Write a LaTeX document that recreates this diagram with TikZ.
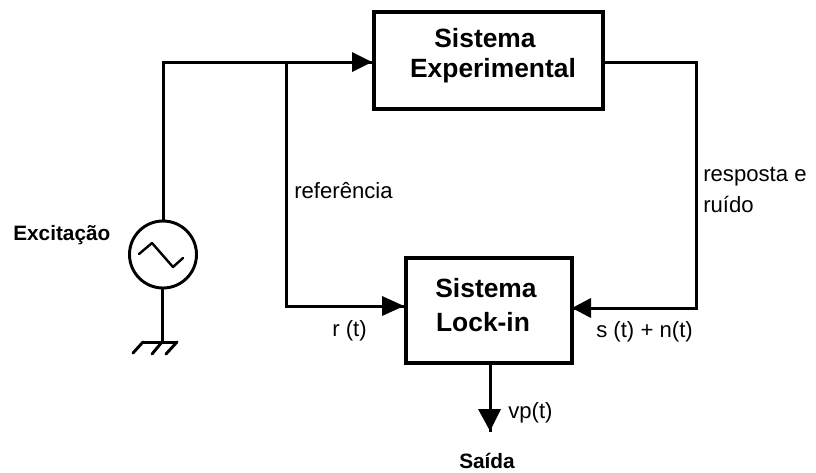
\documentclass[tikz,border=0pt]{standalone}
\usepackage{fontspec}
\setmainfont{Liberation Sans}
\tikzset{
  x=0.75pt,y=-0.75pt,
  wire/.style={line width=2.25pt,line cap=butt,line join=miter},
  arrowtip/.style={fill=black,draw=none},
  blockbox/.style={draw,line width=2.6pt,inner sep=0pt},
  lab/.style={font=\fontsize{16.6pt}{20pt}\selectfont,inner sep=0pt},
  title/.style={font=\fontsize{19.8pt}{25.5pt}\selectfont\bfseries,inner sep=0pt},
  boldlab/.style={font=\fontsize{15.6pt}{18pt}\selectfont\bfseries,inner sep=0pt},
  hatchline/.style={line width=2.2pt,line cap=round},
}
\begin{document}
\begin{tikzpicture}
\useasboundingbox (0,0) rectangle (816,472);
\node[blockbox,minimum width=229*0.75pt,minimum height=97*0.75pt] (exp) at (488.5,60.5) {};
\node[blockbox,minimum width=166*0.75pt,minimum height=105*0.75pt] (lock) at (489,310.5) {};
\node[title] (t1a) at (485,38.5) {Sistema};
\node[title] (t1b) at (493,71) {Experimental};
\node[title] (t2a) at (486,288.5) {Sistema};
\node[title] (t2b) at (483,322) {Lock-in};
\node[circle,draw,line width=2.2pt,minimum size=67*0.75pt,inner sep=0pt] (src) at (163,254.5) {};
\draw[line width=1.8pt,line join=round,line cap=round] (139,254) -- (152,243) -- (173,267) -- (183,258);
\coordinate (c1) at (163,62);
\coordinate (j1) at (286,62);
\coordinate (c2) at (286,306);
\coordinate (c3) at (696,62);
\coordinate (c4) at (696,308);
\coordinate (gnd) at (162,342);
\coordinate (out) at (490,432);
\draw[wire] (src.north) -- (c1) -- (exp.west |- c1);
\draw[wire] (j1) -- (c2) -- (lock.west |- c2);
\draw[wire] (exp.east |- c3) -- (c3) -- (c4) -- (lock.east |- c4);
\draw[wire] (src.south -| gnd) -- (gnd);
\draw[wire] (lock.south -| out) -- (out);
\fill[arrowtip] (352,52) -- (372,62) -- (352,72) -- cycle;
\fill[arrowtip] (382,296) -- (404,306) -- (382,316) -- cycle;
\fill[arrowtip] (591,298) -- (572,308) -- (591,318) -- cycle;
\fill[arrowtip] (478,409) -- (501,409) -- (490,431) -- cycle;
\draw[wire] (143,342) -- (177,342);
\draw[hatchline] (143,342) -- (133,353);
\draw[hatchline] (162,342) -- (152,354);
\draw[hatchline] (177,342) -- (166,354);
\node[lab,anchor=west] (l1) at (294,191) {referência};
\node[lab,anchor=west] (l2) at (703,177) {resposta e};
\node[lab,anchor=west] (l3) at (703,204) {ruído};
\node[lab,anchor=west] (l4) at (332,331) {r (t)};
\node[lab,anchor=west] (l5) at (596,332) {s (t) + n(t)};
\node[lab,anchor=west] (l6) at (508,413) {vp(t)};
\node[boldlab] (l7) at (487,461) {Saída};
\node[boldlab,anchor=west] (l8) at (13,235) {Excitação};
\end{tikzpicture}
\end{document}
